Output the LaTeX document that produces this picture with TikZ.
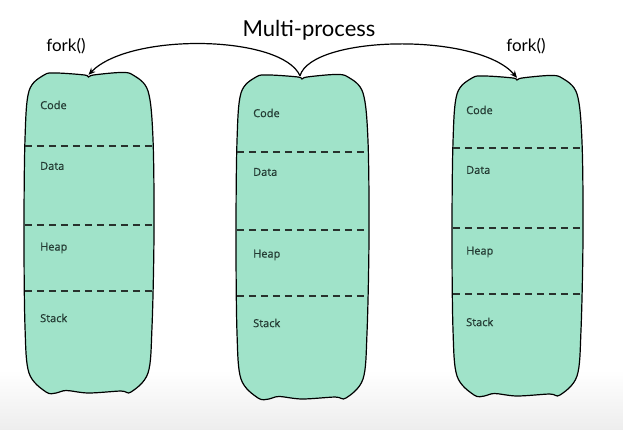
\documentclass[tikz,border=0pt]{standalone}
\usepackage{fontspec}
\setmainfont{Lato}
\newfontfamily\labfont[FakeBold=0.6]{Open Sans}
\usetikzlibrary{arrows.meta}
\definecolor{mint}{RGB}{160,227,201}
\definecolor{labc}{RGB}{35,58,50}
\definecolor{dashc}{RGB}{40,50,45}
\newcommand{\memblob}[4]{%
  \draw[outline, shift={(#1,#2)}] plot[smooth cycle, tension=0.55] coordinates {
    ({-#3+20},{-#4+1}) ({-#3/2},{-#4-1}) (-4,{-#4+1}) (0,{-#4+3}) (5,{-#4+1}) ({#3/2},{-#4-1.5}) ({#3-20},{-#4+1})
    ({#3-5},{-#4+17}) ({#3},{-#4+65}) ({#3+1},0) ({#3-1},{#4-65}) ({#3-5},{#4-19})
    ({#3-22},{#4}) ({#3/2},{#4-1}) (0,{#4+1}) ({-#3/2+10},{#4-1.5}) ({-#3/2},{#4+1}) ({-#3+22},{#4})
    ({-#3+5},{#4-19}) ({-#3+1},{#4-65}) ({-#3},0) ({-#3+1},{-#4+65}) ({-#3+5},{-#4+17})
  };}
\begin{document}
\begin{tikzpicture}[x=1pt,y=-1pt,
  outline/.style={draw=black, line width=1.2pt, fill=mint},
  holder/.style={inner sep=0pt, draw=none},
  seg/.style={draw=dashc, line width=1.7pt, dash pattern=on 7pt off 5pt},
  lab/.style={text=labc, font=\labfont\fontsize{11}{13}\selectfont, anchor=west, inner sep=0pt},
  arr/.style={line width=1.2pt, -{Stealth[length=7pt,width=6pt]}}]
\shade[top color=white, bottom color=black!7] (0,370) rectangle (623,430);
\useasboundingbox (0,0) rectangle (623,430);
\memblob{88.5}{233}{64.5}{159}
\memblob{302}{237}{66}{161}
\memblob{517}{236}{65}{159}
\node[holder, minimum width=129pt, minimum height=318pt] (L) at (88.5,233) {};
\node[holder, minimum width=132pt, minimum height=322pt] (M) at (302,237) {};
\node[holder, minimum width=130pt, minimum height=318pt] (R) at (517,236) {};
% dashed separators
\foreach \b/\ya/\yb/\yc in {L/146/225/291, M/152/230/296, R/148/228/294}{
  \draw[seg] ([xshift=1pt]\b.west |- 0,\ya) -- ([xshift=-1pt]\b.east |- 0,\ya);
  \draw[seg] ([xshift=1pt]\b.west |- 0,\yb) -- ([xshift=-1pt]\b.east |- 0,\yb);
  \draw[seg] ([xshift=1pt]\b.west |- 0,\yc) -- ([xshift=-1pt]\b.east |- 0,\yc);
}
% labels
\node[lab] (Lc) at (40,105) {Code};
\node[lab] (Ld) at (40,166) {Data};
\node[lab] (Lh) at (40,248) {Heap};
\node[lab] (Ls) at (40,318) {Stack};
\node[lab] (Mc) at (253,113) {Code};
\node[lab] (Md) at (253,172) {Data};
\node[lab] (Mh) at (253,255) {Heap};
\node[lab] (Ms) at (253,323) {Stack};
\node[lab] (Rc) at (466,110) {Code};
\node[lab] (Rd) at (466,170) {Data};
\node[lab] (Rh) at (466,252) {Heap};
\node[lab] (Rs) at (466,322) {Stack};
% title and fork labels
\node[font=\fontsize{22}{26}\selectfont, inner sep=0pt] (T) at (309,30) {Multi-process};
\node[font=\fontsize{17}{20}\selectfont, inner sep=0pt] (F1) at (66,46) {fork()};
\node[font=\fontsize{17}{20}\selectfont, inner sep=0pt] (F2) at (526,46) {fork()};
% arrows
\draw[arr] ([xshift=-2pt]M.north) .. controls (282,35) and (130,32) .. ([yshift=-1pt]L.north);
\draw[arr] ([xshift=-2pt]M.north) .. controls (312,35) and (478,32) .. ([yshift=-1pt]R.north);
\end{tikzpicture}
\end{document}
